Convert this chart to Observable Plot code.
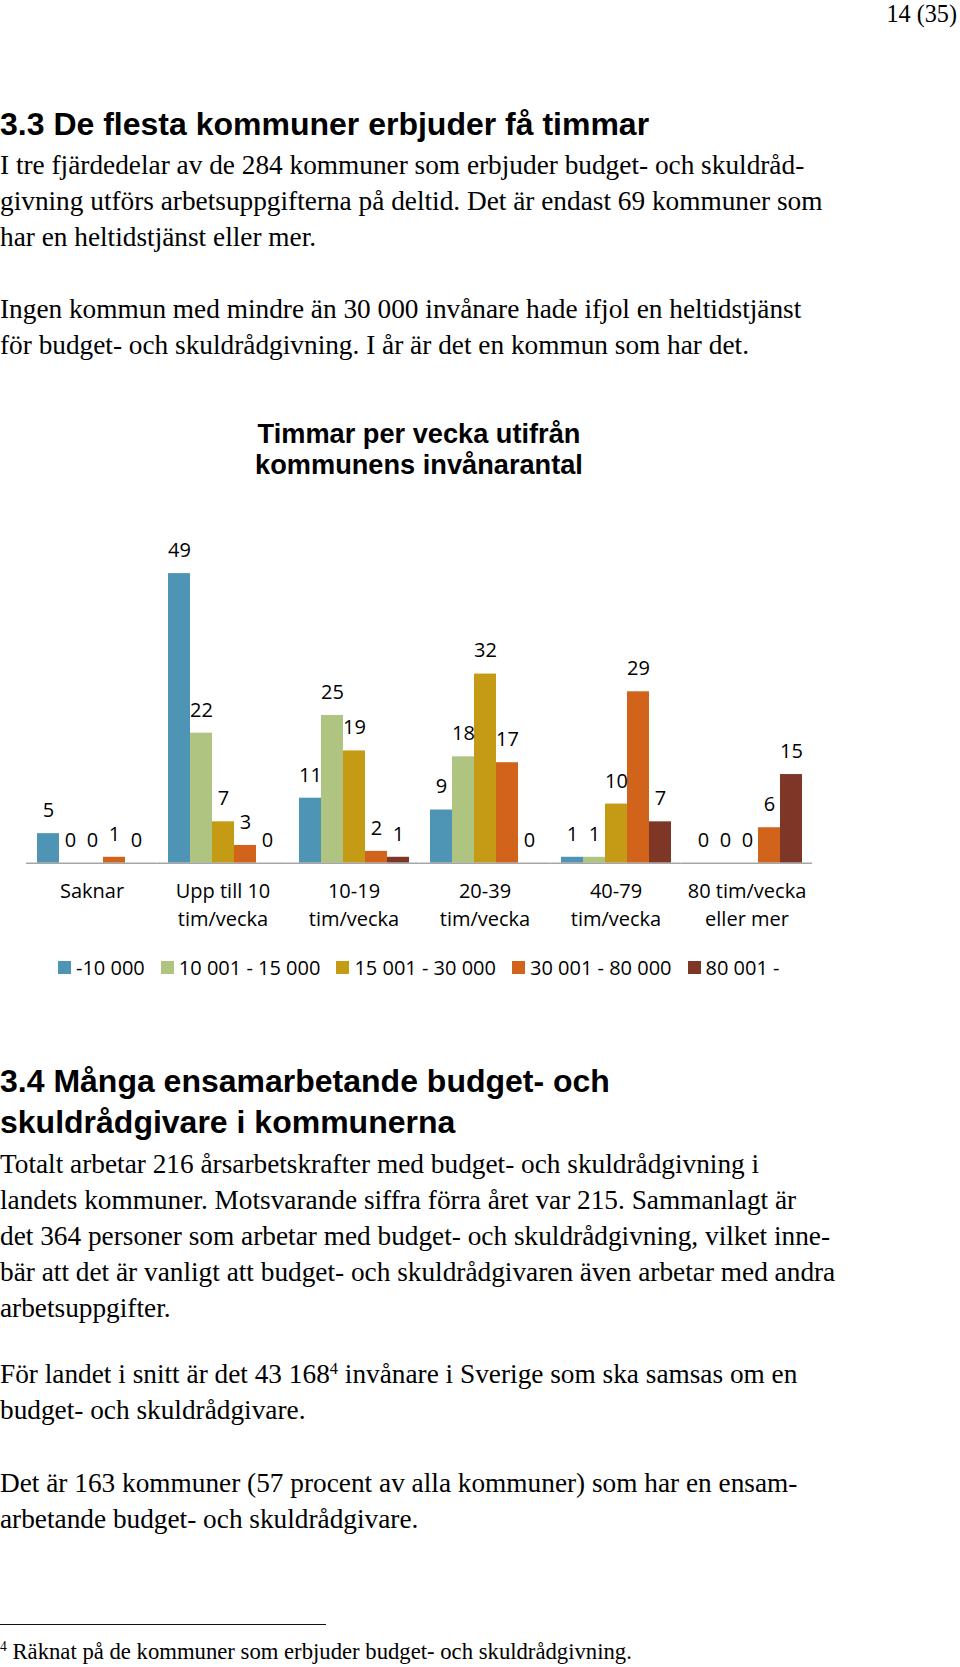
<!DOCTYPE html>
<html><head><meta charset="utf-8">
<script src="https://cdn.jsdelivr.net/npm/d3@7"></script>
<script src="https://cdn.jsdelivr.net/npm/@observablehq/plot@0.6"></script>
<style>
html,body{margin:0;padding:0;background:#fff;}
#page{position:relative;width:960px;height:1667px;overflow:hidden;color:#000;background:#fff;}
.abs{position:absolute;white-space:nowrap;}
.serif{font-family:"Liberation Serif","Times New Roman",serif;font-weight:normal;}
.sans{font-family:"Liberation Sans",Arial,sans-serif;font-weight:bold;}
.body{font-size:27.3px;line-height:36.1px;left:0;}
.h{font-size:32px;line-height:41.4px;left:0;}
sup.fn{font-size:60%;vertical-align:baseline;position:relative;top:-0.55em;line-height:0;}
.lg-swatches{font-family:"Open Sans",sans-serif !important;font-size:20px !important;color:#000;margin:0 !important;}
.lg-swatch{margin-right:16px !important;}
.lg-swatch > svg{margin-right:5px !important;}
</style></head><body><div id="page">
<div class="abs serif" style="right:3px;top:1.7px;font-size:24.2px;line-height:24.2px;">14 (35)</div>
<div class="abs sans h" style="top:104px;">3.3 De flesta kommuner erbjuder få timmar</div>
<div class="abs serif body" style="top:146.5px;">I tre fjärdedelar av de 284 kommuner som erbjuder budget- och skuldråd-<br>givning utförs arbetsuppgifterna på deltid. Det är endast 69 kommuner som<br>har en heltidstjänst eller mer.</div>
<div class="abs serif body" style="top:291.1px;">Ingen kommun med mindre än 30 000 invånare hade ifjol en heltidstjänst<br>för budget- och skuldrådgivning. I år är det en kommun som har det.</div>
<div class="abs sans" style="top:418.6px;left:0;width:838px;text-align:center;font-size:27.2px;line-height:30.9px;">Timmar per vecka utifrån<br>kommunens invånarantal</div>
<div id="chart" class="abs" style="left:0;top:500px;"></div>
<div id="legend" class="abs" style="left:58px;top:950.5px;"></div>
<div class="abs sans h" style="top:1061px;">3.4 Många ensamarbetande budget- och<br>skuldrådgivare i kommunerna</div>
<div class="abs serif body" style="top:1145.7px;">Totalt arbetar 216 årsarbetskrafter med budget- och skuldrådgivning i<br>landets kommuner. Motsvarande siffra förra året var 215. Sammanlagt är<br>det 364 personer som arbetar med budget- och skuldrådgivning, vilket inne-<br>bär att det är vanligt att budget- och skuldrådgivaren även arbetar med andra<br>arbetsuppgifter.</div>
<div class="abs serif body" style="top:1356.3px;">För landet i snitt är det 43 168<sup class="fn">4</sup> invånare i Sverige som ska samsas om en<br>budget- och skuldrådgivare.</div>
<div class="abs serif body" style="top:1464.7px;">Det är 163 kommuner (57 procent av alla kommuner) som har en ensam-<br>arbetande budget- och skuldrådgivare.</div>
<div class="abs" style="left:0;top:1624px;width:326px;height:1.2px;background:#111;"></div>
<div class="abs serif" style="left:0;top:1640.5px;font-size:22.7px;line-height:22.7px;"><sup class="fn">4</sup> Räknat på de kommuner som erbjuder budget- och skuldrådgivning.</div>
</div>
<script>
const categories = ["Saknar", "Upp till 10\ntim/vecka", "10-19\ntim/vecka", "20-39\ntim/vecka", "40-79\ntim/vecka", "80 tim/vecka\neller mer"];
const seriesNames = ["-10 000", "10 001 - 15 000", "15 001 - 30 000", "30 001 - 80 000", "80 001 -"];
const under10k = [5, 49, 11, 9, 1, 0];
const from10k = [0, 22, 25, 18, 1, 0];
const from15k = [0, 7, 19, 32, 10, 0];
const from30k = [1, 3, 2, 17, 29, 6];
const over80k = [0, 0, 1, 0, 7, 15];
const palette = ["#4e94b4", "#afc480", "#c59b15", "#d1631a", "#7e3726"];

const seriesValues = [under10k, from10k, from15k, from30k, over80k];
const rows = categories.flatMap((cat, i) => seriesNames.map((s, j) => ({cat, series: s, value: seriesValues[j][i]})));

const chart = Plot.plot({
  width: 960, height: 440,
  marginLeft: 25, marginRight: 147.3, marginTop: 67.2, marginBottom: 77.3,
  style: {fontFamily: "'Open Sans', sans-serif", fontSize: "20px", color: "#000", background: "transparent", overflow: "visible"},
  fx: {domain: categories, paddingInner: 0.1356, paddingOuter: 0.0678, label: null},
  x: {domain: seriesNames, padding: 0, axis: null},
  y: {domain: [0, 50], axis: null},
  color: {domain: seriesNames, range: palette},
  marks: [
    Plot.barY(rows, {fx: "cat", x: "series", y: "value", fill: "series"}),
    Plot.ruleY([0], {stroke: "#a6a6a6", strokeWidth: 1.5, insetLeft: -8.9, insetRight: -8.9}),
    Plot.text(rows, {fx: "cat", x: "series", y: "value", text: d => String(d.value), dy: -23, fontSize: 20, fill: "#000"}),
    Plot.axisFx({anchor: "bottom", tickSize: 0, tickPadding: 15.4, label: null, lineHeight: 1.38, fontSize: 20, fill: "#000"})
  ]
});
document.getElementById("chart").appendChild(chart);
const leg = chart.legend("color", {className: "lg", swatchSize: 13});
document.getElementById("legend").appendChild(leg);
</script>
</body></html>
